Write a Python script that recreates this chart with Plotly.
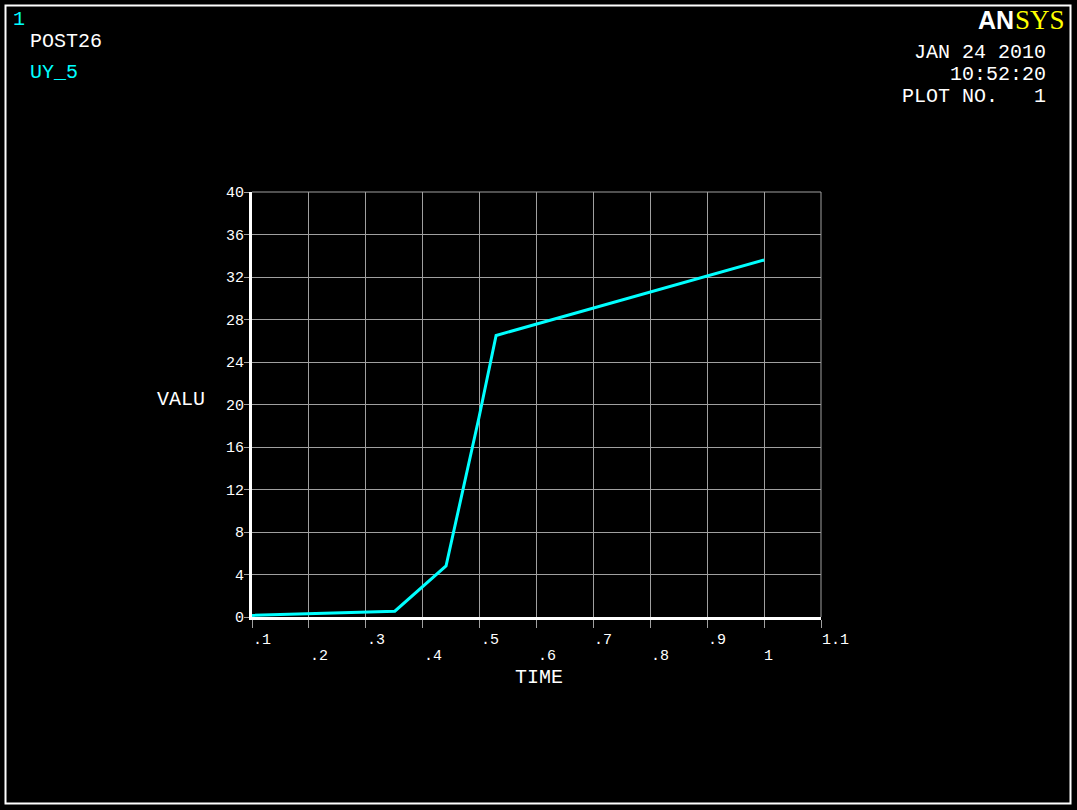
import plotly.graph_objects as go

# ---- data ----
time = [0.1, 0.351, 0.441, 0.499, 0.529, 1.0]
uy_5 = [0.15, 0.55, 4.8, 18.8, 26.5, 33.6]
x_tick_vals = [0.1, 0.2, 0.3, 0.4, 0.5, 0.6, 0.7, 0.8, 0.9, 1.0, 1.1]
x_tick_text = [".1", ".2", ".3", ".4", ".5", ".6", ".7", ".8", ".9", "1", "1.1"]
y_tick_vals = [0, 4, 8, 12, 16, 20, 24, 28, 32, 36, 40]

W, H = 1077, 810
L, R, T, B = 252, 821, 192, 617
MONO = "Liberation Mono"
CYAN = "#00ffff"
GRID = "#a0a0a0"


def px(x):
    return (x - L) / (R - L)


def py(y):
    return (B - y) / (B - T)


fig = go.Figure()
fig.add_trace(go.Scatter(x=time, y=uy_5, mode="lines",
                         line=dict(color=CYAN, width=3), showlegend=False,
                         hoverinfo="skip"))

annotations = []


def txt(text, x, y, size=20, color="white", xanchor="left", family=MONO):
    annotations.append(dict(text=text, x=px(x), y=py(y), xref="paper", yref="paper",
                            xanchor=xanchor, yanchor="middle", showarrow=False,
                            font=dict(family=family, size=size, color=color)))


txt("1", 11, 19, color=CYAN)
txt("POST26", 28, 41)
txt("UY_5", 28, 73, color=CYAN)
txt("JAN 24 2010", 1048, 53, xanchor="right")
txt("10:52:20", 1048, 75, xanchor="right")
txt("PLOT NO.   1", 1048, 96, xanchor="right")
txt("VALU", 155, 399)
txt("TIME", 539, 677, xanchor="center")
txt("<b>AN</b>", 1016, 20, size=25, xanchor="right", family="Liberation Sans")
txt("SYS", 1013, 20, size=27, color="#ffff00", family="Liberation Serif")

# staggered x tick labels
shifts = {"1": 4, "1.1": 14}
for i, (v, t) in enumerate(zip(x_tick_vals, x_tick_text)):
    annotations.append(dict(text=t, x=v, y=py(640 if i % 2 == 0 else 656),
                            xref="x", yref="paper", xanchor="center", yanchor="middle",
                            xshift=shifts.get(t, 10), showarrow=False,
                            font=dict(family=MONO, size=15, color="white")))

shapes = [
    # outer frame
    dict(type="rect", xref="paper", yref="paper", x0=px(5.5), x1=px(1070.5),
         y0=py(5.5), y1=py(803.5), line=dict(color="white", width=2)),
    # top and right grid borders
    dict(type="line", xref="paper", yref="paper", x0=0, x1=1, y0=1, y1=1,
         line=dict(color=GRID, width=1)),
    dict(type="line", xref="paper", yref="paper", x0=1, x1=1, y0=0, y1=1,
         line=dict(color=GRID, width=1)),
]

fig.update_layout(
    width=W, height=H,
    margin=dict(l=L, r=W - R, t=T, b=H - B),
    paper_bgcolor="black", plot_bgcolor="black",
    annotations=annotations, shapes=shapes,
    xaxis=dict(range=[0.1, 1.1], tickvals=x_tick_vals, showticklabels=False,
               showgrid=True, gridcolor=GRID, gridwidth=1, zeroline=False,
               showline=True, linecolor="white", linewidth=3,
               ticks="outside", ticklen=8, tickcolor=GRID, tickwidth=1),
    yaxis=dict(range=[0, 40], tickvals=y_tick_vals, showgrid=True, gridcolor=GRID,
               gridwidth=1, zeroline=False, showline=True, linecolor="white",
               linewidth=3, ticks="outside", ticklen=5, tickcolor=GRID, tickwidth=1,
               ticklabelstandoff=-3,
               tickfont=dict(family=MONO, size=15, color="white")),
)

fig.write_html("out.html", config={"displayModeBar": False},
               post_script="document.body.style.margin='0px';"
                           "document.body.style.background='black';")
